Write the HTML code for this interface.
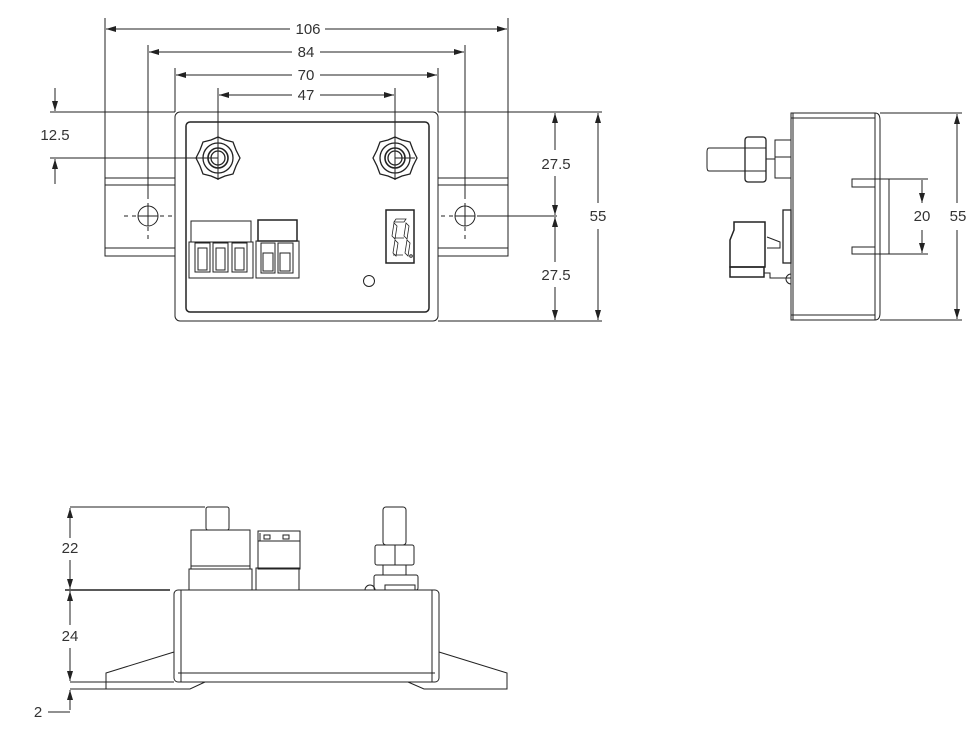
<!DOCTYPE html>
<html><head><meta charset="utf-8"><style>
html,body{margin:0;padding:0;background:#fff;}
svg{display:block;}
text{font-family:"Liberation Sans",sans-serif;font-size:15px;fill:#333;}
</style></head><body>
<svg width="980" height="731" viewBox="0 0 980 731" xmlns="http://www.w3.org/2000/svg">
<defs>
<marker id="a" viewBox="0 0 10 6" refX="10" refY="3" markerWidth="10" markerHeight="6" orient="auto-start-reverse" markerUnits="userSpaceOnUse"><path d="M0,0L10,3L0,6z" fill="#222"/></marker>
</defs>
<g stroke="#222" stroke-width="1" fill="none">
<line x1="105" y1="18" x2="105" y2="178"/><line x1="508" y1="18" x2="508" y2="178"/>
<line x1="106" y1="29" x2="290" y2="29" marker-start="url(#a)"/><line x1="325" y1="29" x2="507" y2="29" marker-end="url(#a)"/>
<line x1="148" y1="45" x2="148" y2="195"/><line x1="465" y1="45" x2="465" y2="195"/>
<line x1="148" y1="195" x2="148" y2="240" stroke-dasharray="4,4"/><line x1="465" y1="195" x2="465" y2="240" stroke-dasharray="4,4"/>
<line x1="149" y1="52" x2="292" y2="52" marker-start="url(#a)"/><line x1="320" y1="52" x2="464" y2="52" marker-end="url(#a)"/>
<line x1="175" y1="68" x2="175" y2="112"/><line x1="438" y1="68" x2="438" y2="112"/>
<line x1="176" y1="75" x2="292" y2="75" marker-start="url(#a)"/><line x1="320" y1="75" x2="437" y2="75" marker-end="url(#a)"/>
<line x1="218" y1="88" x2="218" y2="180"/><line x1="395" y1="88" x2="395" y2="180"/>
<line x1="219" y1="95" x2="292" y2="95" marker-start="url(#a)"/><line x1="320" y1="95" x2="394" y2="95" marker-end="url(#a)"/>
<line x1="50" y1="112" x2="175" y2="112"/>
<line x1="438" y1="112" x2="602" y2="112"/><line x1="438" y1="321" x2="602" y2="321"/>
<line x1="55" y1="88" x2="55" y2="111" marker-end="url(#a)"/>
<line x1="55" y1="184" x2="55" y2="159" marker-end="url(#a)"/>
<line x1="50" y1="158" x2="218" y2="158"/>
<line x1="555" y1="113" x2="555" y2="150" marker-start="url(#a)"/><line x1="555" y1="176" x2="555" y2="215" marker-end="url(#a)"/>
<line x1="555" y1="217" x2="555" y2="262" marker-start="url(#a)"/><line x1="555" y1="287" x2="555" y2="320" marker-end="url(#a)"/>
<line x1="478" y1="216" x2="557" y2="216"/>
<line x1="598" y1="113" x2="598" y2="203" marker-start="url(#a)"/><line x1="598" y1="229" x2="598" y2="320" marker-end="url(#a)"/>
<path d="M175,178H105V256H175M438,178H508V256H438"/>
<line x1="105" y1="185" x2="175" y2="185"/><line x1="105" y1="248" x2="175" y2="248"/>
<line x1="438" y1="185" x2="508" y2="185"/><line x1="438" y1="248" x2="508" y2="248"/>
<circle cx="148" cy="216" r="10"/><circle cx="465" cy="216" r="10"/>
<path d="M138,216H158M148,206V226M455,216H475M465,206V226"/>
<path d="M124,216H136M160,216H172M441,216H453M477,216H489" stroke-dasharray="4,4"/>
<rect x="175" y="112" width="263" height="209" rx="5"/>
<rect x="186" y="122" width="243" height="190" rx="4" stroke-width="1.5"/>
<g id="n1" stroke-width="1.3"><polygon points="218,137 225,140 233,142 236,150 240,158 236,166 233,174 225,176 218,179 211,176 203,174 200,166 196,158 200,150 203,142 211,140"/><circle cx="218" cy="158" r="15"/><circle cx="218" cy="158" r="10" stroke-width="1.6"/><circle cx="218" cy="158" r="7"/></g>
<g transform="translate(177,0)" stroke-width="1.3"><polygon points="218,137 225,140 233,142 236,150 240,158 236,166 233,174 225,176 218,179 211,176 203,174 200,166 196,158 200,150 203,142 211,140"/><circle cx="218" cy="158" r="15"/><circle cx="218" cy="158" r="10" stroke-width="1.6"/><circle cx="218" cy="158" r="7"/></g>
<line x1="395" y1="158" x2="415" y2="158"/>
<rect x="191" y="221" width="60" height="21"/>
<rect x="189" y="242" width="64" height="36"/>
<rect x="195" y="243" width="15" height="29"/><rect x="213" y="243" width="15" height="29"/><rect x="232" y="243" width="15" height="29"/>
<rect x="198" y="248" width="9" height="22"/><rect x="216" y="248" width="9" height="22"/><rect x="235" y="248" width="9" height="22"/>
<rect x="258" y="220" width="39" height="21" stroke-width="1.5"/>
<rect x="256" y="241" width="43" height="37"/>
<rect x="261" y="243" width="14" height="30"/><rect x="278" y="243" width="15" height="30"/>
<rect x="263" y="253" width="10" height="18"/><rect x="280" y="253" width="10" height="18"/>
<rect x="386" y="210" width="28" height="53" stroke-width="1.5"/>
<path d="M396,219H406L404,222H394ZM394,223L392,236L395,239L397,226ZM406,223L404,236L407,239L409,226ZM395,240L393,253L396,256L398,243ZM407,240L405,253L408,256L410,243ZM394,238H404M393,255H403" stroke-width="0.8"/>
<circle cx="411" cy="256" r="1.3"/>
<circle cx="369" cy="281" r="5.5"/>

<path d="M791,113H875Q880,113 880,120V313Q880,320 875,320H791Z"/>
<line x1="791" y1="118" x2="875" y2="118"/><line x1="791" y1="315" x2="875" y2="315"/>
<line x1="875" y1="113" x2="875" y2="320"/>
<line x1="793" y1="113" x2="793" y2="320"/>
<path d="M875,179H852V187H875M875,254H852V247H875"/>
<rect x="875" y="179" width="14" height="75"/>
<line x1="889" y1="179" x2="928" y2="179"/><line x1="889" y1="254" x2="928" y2="254"/>
<line x1="922" y1="180" x2="922" y2="203" marker-end="url(#a)"/><line x1="922" y1="230" x2="922" y2="253" marker-end="url(#a)"/>
<line x1="880" y1="113" x2="962" y2="113"/><line x1="880" y1="320" x2="962" y2="320"/>
<line x1="957" y1="114" x2="957" y2="203" marker-start="url(#a)"/><line x1="957" y1="230" x2="957" y2="319" marker-end="url(#a)"/>
<path d="M745,148H709Q707,148 707,152V167Q707,171 709,171H745"/>
<rect x="745" y="137" width="21" height="45" rx="3" stroke-width="1.3"/>
<line x1="745" y1="148" x2="766" y2="148"/><line x1="745" y1="171" x2="766" y2="171"/>
<rect x="775" y="140" width="16" height="38"/><line x1="775" y1="157" x2="791" y2="157"/>
<line x1="766" y1="159" x2="775" y2="159"/>
<rect x="783" y="210" width="8" height="53" stroke-width="1.3"/>
<path d="M734,222H765V267H730V240L734,230Z" stroke-width="1.5"/>
<rect x="730" y="267" width="34" height="10" stroke-width="1.5"/>
<path d="M767,237L780,242V248H767M764,273H770V278H791M791,274A5,5 0 0 0 791,284"/>

<rect x="174" y="590" width="265" height="92" rx="4"/>
<line x1="181" y1="590" x2="181" y2="682"/><line x1="432" y1="590" x2="432" y2="682"/>
<line x1="178" y1="673" x2="435" y2="673"/>
<path d="M174,652L106,673V689H190L205,682M439,652L507,673V689H424L408,682"/>
<rect x="206" y="507" width="23" height="23" rx="2"/>
<rect x="191" y="530" width="59" height="39"/>
<rect x="189" y="569" width="63" height="21"/>
<line x1="191" y1="566" x2="250" y2="566"/>
<rect x="258" y="531" width="42" height="38"/>
<path d="M258,541H300M260,533V541"/>
<rect x="264" y="535" width="6" height="4"/><rect x="283" y="535" width="6" height="4"/>
<rect x="256" y="568" width="43" height="22"/>
<rect x="383" y="507" width="23" height="38" rx="3"/>
<rect x="375" y="545" width="39" height="20" rx="2"/><line x1="395" y1="545" x2="395" y2="565"/>
<line x1="383" y1="565" x2="383" y2="575"/><line x1="406" y1="565" x2="406" y2="575"/>
<rect x="374" y="575" width="44" height="15" rx="2"/><rect x="385" y="585" width="30" height="5"/>
<path d="M365,590A5,5 0 0 1 375,590"/>
<line x1="70" y1="507" x2="205" y2="507"/>
<line x1="65" y1="590" x2="170" y2="590" stroke-width="1.5"/>
<line x1="70" y1="682" x2="174" y2="682"/>
<line x1="70" y1="689" x2="106" y2="689"/>
<line x1="70" y1="508" x2="70" y2="538" marker-start="url(#a)"/><line x1="70" y1="560" x2="70" y2="589" marker-end="url(#a)"/>
<line x1="70" y1="591" x2="70" y2="625" marker-start="url(#a)"/><line x1="70" y1="648" x2="70" y2="681" marker-end="url(#a)"/>
<line x1="70" y1="690" x2="70" y2="710" marker-start="url(#a)"/>
<line x1="48" y1="712" x2="70" y2="712"/>
</g>
<g text-anchor="middle">
<text x="308" y="34">106</text><text x="306" y="57">84</text><text x="306" y="80">70</text><text x="306" y="100">47</text>
<text x="55" y="140">12.5</text>
<text x="556" y="169">27.5</text><text x="556" y="280">27.5</text>
<text x="598" y="221">55</text>
<text x="922" y="221">20</text><text x="958" y="221">55</text>
<text x="70" y="553">22</text><text x="70" y="641">24</text>
<text x="38" y="717">2</text>
</g>
</svg>
</body></html>
